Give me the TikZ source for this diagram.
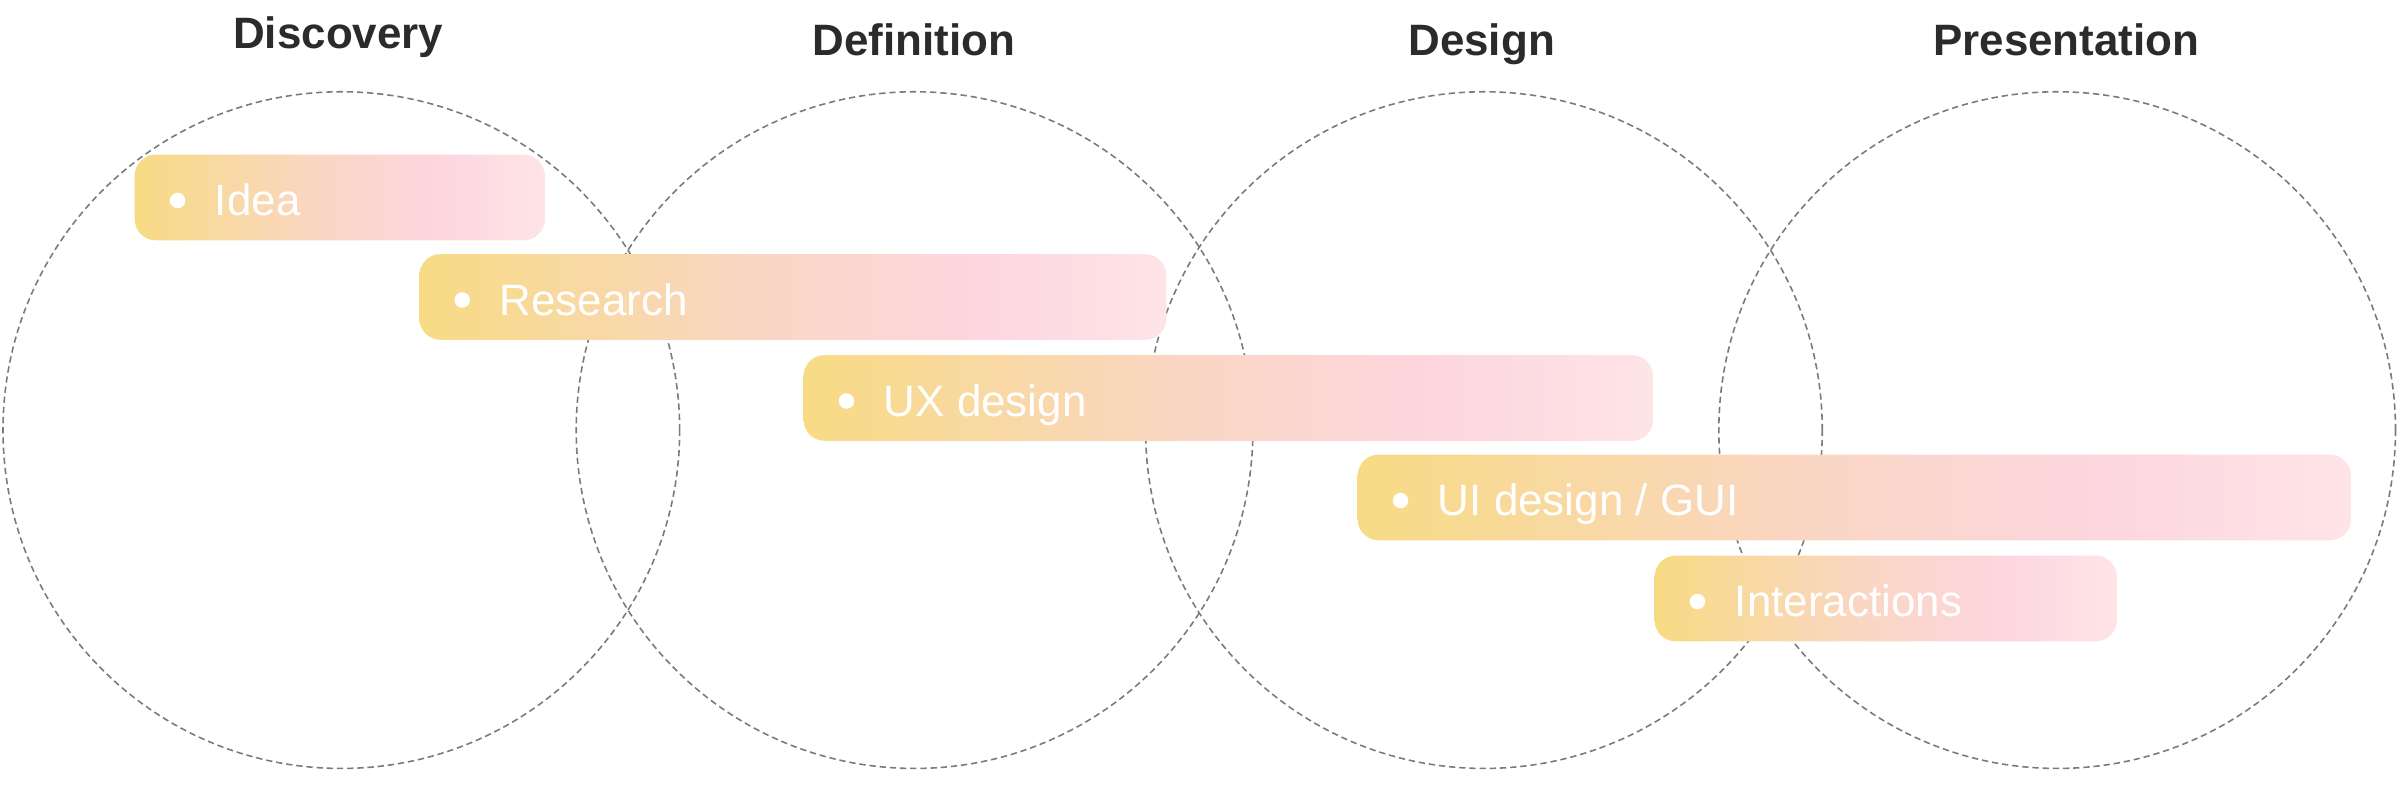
\documentclass[tikz,border=0pt]{standalone}
\usepackage{fontspec}
\setmainfont{Liberation Sans}
\usetikzlibrary{positioning}
\definecolor{barA}{HTML}{F7DB84}
\definecolor{barB}{HTML}{FAD6C4}
\definecolor{barC}{HTML}{FDD6DF}
\definecolor{barD}{HTML}{FEE4E7}
\definecolor{ringgray}{HTML}{7A7A7A}
\definecolor{titlegray}{HTML}{2B2B2B}
\pgfdeclarehorizontalshading{barshade}{100bp}{color(0bp)=(barA); color(25bp)=(barA); color(47.5bp)=(barB); color(62.5bp)=(barC); color(75bp)=(barD); color(100bp)=(barD)}
\tikzset{
    ring/.style={draw=ringgray, line width=0.45pt, dash pattern=on 1.8pt off 1.1pt},
    phase/.style={text=titlegray, font=\bfseries\fontsize{12.5}{15}\selectfont, anchor=base, inner sep=0pt},
    bar/.style={shading=barshade, rounded corners=6pt},
    bartext/.style={text=white, font=\fontsize{12.5}{15}\selectfont, anchor=base west, inner sep=0pt}
}

\begin{document}
\begin{tikzpicture}[x=0.015306cm, y=-0.015306cm]
            \useasboundingbox (0,0) rectangle (1568,522.67);
            \foreach \cx in {223,597.5,969.5,1344}{
                \draw[ring] (\cx,281) circle (3.383cm);
            }
            \node[phase] (discovery) at (221,32) {Discovery};
            \node[phase] (definition) at (597,36.5) {Definition};
            \node[phase] (design) at (968,36.5) {Design};
            \node[phase] (presentation) at (1350,36.5) {Presentation};
            \foreach \nm/\x/\y/\w/\txt in {idea/88/101/268/Idea, research/274/166/488/Research, ux/525/232/555/UX design, ui/887/297/649/{UI design / GUI}, interactions/1081/363/302/Interactions}{
                \shade[bar] (\x,\y) rectangle ++(\w,56);
                \fill[white] (\x+28,\y+30) circle (2.2pt);
                \node[bartext] (\nm) at (\x+52,\y+40) {\txt};
            }
        \end{tikzpicture}
\end{document}
